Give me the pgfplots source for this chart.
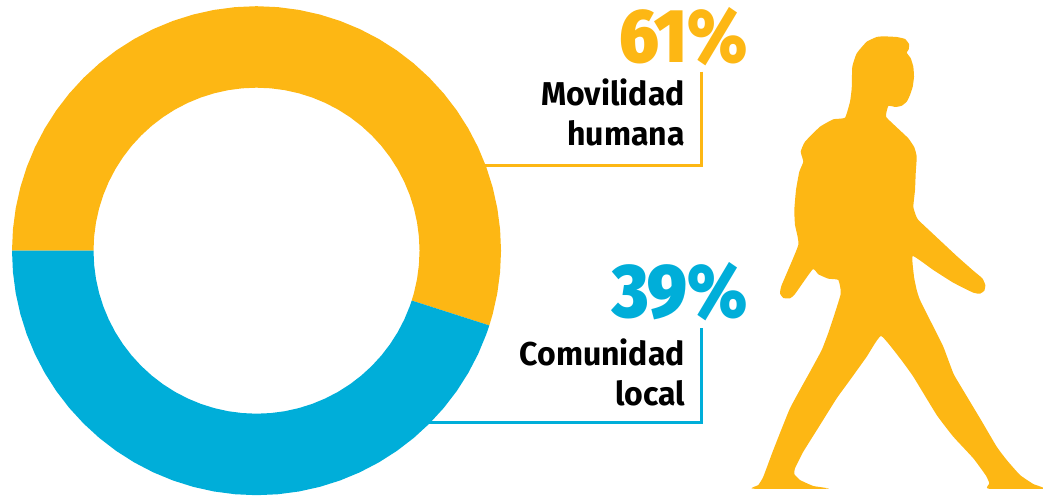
\documentclass[border=0pt]{standalone}
\usepackage{pgfplots}
\pgfplotsset{compat=1.18}
\usepgfplotslibrary{polar}
\usepackage{fontspec}
\setmainfont{Fira Sans}[BoldFont={Fira Sans Bold}]
\newfontfamily\heavy{Fira Sans Black}[FakeStretch=0.9]
\newfontfamily\lab{Fira Sans Bold}[FakeStretch=0.97]
\definecolor{yel}{HTML}{FDB714}
\definecolor{blu}{HTML}{00AED9}
\pgfplotsset{base/.style={width=1043pt,height=497pt,scale only axis,hide axis,clip=true,anchor=south west,at={(0,0)}}}
\begin{document}
\begin{tikzpicture}[x=1pt,y=1pt]
\useasboundingbox (0,0) rectangle (1043,497);
\begin{axis}[base,xmin=0,xmax=1043,ymin=0,ymax=497,y dir=reverse]
\addplot[yel,line width=2.6pt,no marks] coordinates {(701.4,71.7) (701.4,165.8) (480,165.8)};
\addplot[blu,line width=2.6pt,no marks] coordinates {(701.6,328) (701.6,422.3) (425,422.3)};
\addplot[fill=yel,draw=none,smooth,tension=0.25,no marks] coordinates {
(883.3,36.3)(896.7,37)(905,39)(909,44)(908.7,49.3)(906.7,52.7)(910.7,58.3)(913.3,66.7)(914,76.7)(912.7,86.7)(910,95)(906.7,101.7)(901.7,105.7)(895.7,107)(888.3,106)(886,116.7)(896.7,127.3)(908.3,138.3)(914.3,147.3)(916.7,156.7)(915.7,173.3)(915,190)
(913.3,206.7)(915.7,215)(918.3,220)(936.7,237.3)(956.7,256)(973.3,270.7)(982.3,278.3)(985.3,285)(984.3,290.7)(980,293.7)(973.3,292.7)(953.3,282.7)(933.3,270)(912.7,256)(914,276.7)(916.7,290)(920,300)(935,330)(943.3,346.7)(953.3,373.3)(960,385)(980,418.3)(996.7,446.7)(1006.7,460)(1020,475)(1033.3,484)(1044,488.7)
(988.3,488.7)(989.3,483.3)(986,475.7)(973.3,458.3)(953.3,436.7)(936.7,415)(913.3,376.7)(900,358.3)(881,336)
(866.7,356.7)(850,380)(836.7,398.3)(820,425)(803.3,451.7)(795,468.3)(794.3,474)(800,480)(813.3,486)(828.3,488.7)
(752.7,488.7)(758.3,485)(763.3,476.7)(773.3,450)(790,408.3)(810,371.7)(821.7,350)(829.3,330)(840.7,294)(838.3,280)(828.3,278.7)(818.3,274.3)(812.7,269.3)(795,294)(790,298.3)(783.3,298)(780,293.3)(781.7,285)(798.3,245)(795,225)(794.3,210)(796,190)(799.3,171.7)(803.3,161.7)(800.7,151.7)(805,141.7)(820,126.7)(833.3,119.3)(845,117.7)(850,101.7)(851.7,88.3)(852.3,66.7)(856.7,53.3)(866.7,41.7)(876.7,37)(883.3,36.3)};
\node[anchor=base east,inner sep=0pt,text=yel,font=\heavy\fontsize{76}{76}\selectfont] at (axis cs:748,62.7) {61\%};
\node[anchor=base east,inner sep=0pt,text=blu,font=\heavy\fontsize{76}{76}\selectfont] at (axis cs:748,317.7) {39\%};
\node[anchor=base east,inner sep=0pt,font=\lab\fontsize{33}{33}\selectfont] at (axis cs:685,106) {Movilidad};
\node[anchor=base east,inner sep=0pt,font=\lab\fontsize{33}{33}\selectfont] at (axis cs:685,145.7) {humana};
\node[anchor=base east,inner sep=0pt,font=\lab\fontsize{33}{33}\selectfont] at (axis cs:685,365) {Comunidad};
\node[anchor=base east,inner sep=0pt,font=\lab\fontsize{33}{33}\selectfont] at (axis cs:685,405) {local};
\end{axis}
\begin{axis}[base,xmin=-256.5,xmax=786.5,ymin=-246.3,ymax=250.7]
% share of the ring: angle (degrees), radius (px)
\addplot[fill=yel,draw=none,no marks,data cs=polar] coordinates {
(180,244.5)(175,244.5)(170,244.5)(165,244.5)(160,244.5)(155,244.5)(150,244.5)(145,244.5)(140,244.5)(135,244.5)(130,244.5)(125,244.5)(120,244.5)(115,244.5)(110,244.5)(105,244.5)(100,244.5)(95,244.5)(90,244.5)(85,244.5)(80,244.5)(75,244.5)(70,244.5)(65,244.5)(60,244.5)(55,244.5)(50,244.5)(45,244.5)(40,244.5)(35,244.5)(30,244.5)(25,244.5)(20,244.5)(15,244.5)(10,244.5)(5,244.5)(0,244.5)(-5,244.5)(-10,244.5)(-15,244.5)(-17.8,244.5)
(-17.8,163)(-15,163)(-10,163)(-5,163)(0,163)(5,163)(10,163)(15,163)(20,163)(25,163)(30,163)(35,163)(40,163)(45,163)(50,163)(55,163)(60,163)(65,163)(70,163)(75,163)(80,163)(85,163)(90,163)(95,163)(100,163)(105,163)(110,163)(115,163)(120,163)(125,163)(130,163)(135,163)(140,163)(145,163)(150,163)(155,163)(160,163)(165,163)(170,163)(175,163)(180,163)} -- cycle;
\addplot[fill=blu,draw=none,no marks,data cs=polar] coordinates {
(-17.8,244.5)(-20,244.5)(-25,244.5)(-30,244.5)(-35,244.5)(-40,244.5)(-45,244.5)(-50,244.5)(-55,244.5)(-60,244.5)(-65,244.5)(-70,244.5)(-75,244.5)(-80,244.5)(-85,244.5)(-90,244.5)(-95,244.5)(-100,244.5)(-105,244.5)(-110,244.5)(-115,244.5)(-120,244.5)(-125,244.5)(-130,244.5)(-135,244.5)(-140,244.5)(-145,244.5)(-150,244.5)(-155,244.5)(-160,244.5)(-165,244.5)(-170,244.5)(-175,244.5)(-180,244.5)
(-180,163)(-175,163)(-170,163)(-165,163)(-160,163)(-155,163)(-150,163)(-145,163)(-140,163)(-135,163)(-130,163)(-125,163)(-120,163)(-115,163)(-110,163)(-105,163)(-100,163)(-95,163)(-90,163)(-85,163)(-80,163)(-75,163)(-70,163)(-65,163)(-60,163)(-55,163)(-50,163)(-45,163)(-40,163)(-35,163)(-30,163)(-25,163)(-20,163)(-17.8,163)} -- cycle;
\end{axis}
\end{tikzpicture}
\end{document}
